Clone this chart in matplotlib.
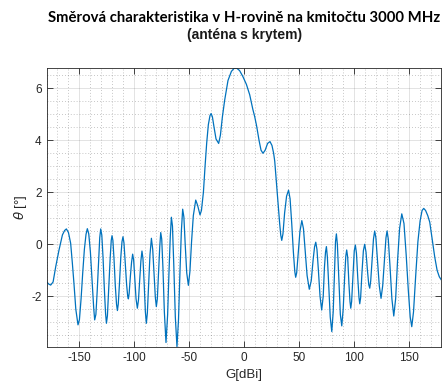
import numpy as np
import matplotlib
matplotlib.use("Agg")
import matplotlib.pyplot as plt
from matplotlib.ticker import MultipleLocator

plt.rcParams['font.family'] = ['Liberation Sans', 'DejaVu Sans']
plt.rcParams['axes.unicode_minus'] = False

# measured pattern: angle [deg] and value
angle = [
    -180.0, -178.0, -176.2, -174.0, -171.6, -168.6, -165.5, -163.5, -161.9, -160.0,
    -158.0, -156.5, -155.0, -153.3, -151.3, -150.0, -148.5, -147.0, -145.5, -144.0,
    -142.8, -141.5, -140.0, -138.5, -137.0, -136.1, -135.0, -133.8, -132.5, -131.5,
    -130.6, -129.6, -128.5, -127.3, -126.2, -125.4, -124.5, -123.3, -122.0, -121.0,
    -120.3, -119.5, -118.5, -117.3, -116.2, -115.4, -114.6, -113.5, -112.3, -111.2,
    -110.3, -109.4, -108.3, -107.0, -106.0, -105.4, -104.7, -103.6, -102.5, -101.5,
    -100.6, -99.6, -98.4, -97.2, -96.2, -95.1, -94.0, -93.0, -92.1, -91.0,
    -89.9, -89.0, -88.1, -87.0, -85.7, -84.4, -83.2, -82.0, -80.8, -79.9,
    -79.0, -77.9, -76.8, -75.9, -75.0, -73.9, -72.6, -71.1, -69.6, -68.4,
    -67.2, -66.2, -65.2, -64.0, -62.6, -61.1, -59.7, -58.4, -57.1, -55.9,
    -54.8, -53.6, -52.2, -50.7, -49.3, -47.8, -46.2, -44.0, -42.3, -40.1,
    -38.8, -37.0, -35.5, -34.0, -32.5, -31.0, -30.0, -28.8, -27.3, -25.5,
    -23.1, -21.5, -19.7, -17.6, -14.6, -11.5, -9.0, -6.5, -4.0, -1.0,
    2.2, 5.2, 8.0, 9.8, 11.5, 13.7, 15.5, 17.3, 19.3, 21.5,
    23.7, 25.5, 27.0, 28.0, 29.5, 31.0, 32.5, 33.5, 34.4, 35.5,
    37.0, 38.8, 40.6, 42.0, 43.5, 45.0, 46.3, 47.1, 48.0, 49.5,
    51.0, 52.7, 54.2, 55.8, 57.5, 59.5, 61.3, 63.0, 64.3, 65.4,
    66.5, 67.8, 69.3, 70.8, 72.2, 73.3, 74.3, 75.1, 76.0, 77.2,
    78.6, 80.0, 81.3, 82.5, 83.4, 84.2, 85.1, 86.3, 87.8, 89.1,
    90.4, 91.8, 92.8, 93.6, 94.5, 95.6, 96.6, 97.3, 98.1, 99.3,
    100.5, 101.5, 102.5, 103.7, 104.8, 105.5, 106.3, 107.5, 108.8, 110.0,
    111.2, 112.5, 113.7, 114.6, 115.5, 116.7, 118.0, 119.1, 120.2, 121.6,
    123.3, 124.9, 126.4, 128.0, 129.4, 130.4, 131.5, 133.0, 134.8, 136.5,
    138.2, 140.0, 141.8, 143.8, 145.8, 147.8, 149.8, 151.5, 152.9, 154.5,
    156.5, 158.5, 160.5, 162.3, 163.8, 165.5, 167.5, 169.3, 171.5, 173.8,
    176.0, 178.0, 180.0,
]
theta = [
    -1.44, -1.53, -1.57, -1.45, -0.86, -0.22, 0.36, 0.53, 0.59, 0.45,
    0.04, -0.70, -1.50, -2.50, -3.10, -2.90, -2.10, -1.10, -0.20, 0.38,
    0.60, 0.40, -0.30, -1.40, -2.45, -2.91, -2.70, -1.80, -0.60, 0.25,
    0.59, 0.35, -0.50, -1.70, -2.65, -3.04, -2.75, -1.70, -0.55, 0.15,
    0.33, 0.15, -0.55, -1.60, -2.30, -2.55, -2.30, -1.50, -0.50, 0.10,
    0.29, 0.05, -0.70, -1.55, -2.00, -2.10, -1.90, -1.25, -0.70, -0.38,
    -0.60, -1.30, -2.10, -2.46, -2.15, -1.40, -0.65, -0.26, -0.55, -1.50,
    -2.60, -3.04, -2.65, -1.60, -0.40, 0.23, -0.20, -1.10, -2.05, -2.40,
    -2.10, -1.10, -0.10, 0.45, 0.20, -0.90, -2.60, -3.78, -2.70, -1.10,
    0.30, 1.04, 0.70, -0.80, -2.80, -3.94, -2.90, -1.10, 0.50, 1.35,
    1.05, 0.00, -1.10, -1.58, -1.05, 0.10, 1.10, 1.70, 1.50, 1.13,
    1.30, 2.00, 3.00, 3.90, 4.60, 4.95, 5.03, 4.90, 4.50, 4.05,
    3.88, 4.20, 4.90, 5.55, 6.30, 6.65, 6.77, 6.77, 6.68, 6.45,
    6.15, 5.75, 5.20, 4.90, 4.55, 4.00, 3.62, 3.50, 3.62, 3.88,
    3.95, 3.80, 3.50, 3.20, 2.40, 1.60, 0.80, 0.35, 0.15, 0.40,
    1.20, 1.85, 2.08, 1.75, 0.80, -0.30, -1.05, -1.27, -1.10, -0.30,
    0.50, 0.91, 0.60, -0.30, -1.20, -1.73, -1.40, -0.60, -0.10, 0.08,
    -0.20, -1.00, -2.00, -2.53, -2.00, -0.90, -0.30, -0.09, -0.50, -1.60,
    -2.80, -3.36, -2.60, -1.00, 0.10, 0.40, 0.00, -1.20, -2.70, -3.14,
    -2.50, -1.20, -0.45, -0.22, -0.50, -1.50, -2.20, -2.46, -2.20, -1.20,
    -0.25, -0.03, -0.35, -1.30, -2.05, -2.29, -2.05, -1.10, -0.25, 0.00,
    -0.30, -1.00, -1.55, -1.69, -1.40, -0.60, 0.20, 0.51, 0.25, -0.60,
    -1.60, -2.08, -1.60, -0.60, 0.25, 0.51, 0.20, -0.80, -2.10, -2.76,
    -2.10, -0.60, 0.60, 1.17, 0.80, -0.40, -1.80, -2.80, -3.17, -2.60,
    -1.20, 0.10, 0.90, 1.30, 1.38, 1.30, 1.10, 0.85, 0.20, -0.48,
    -1.00, -1.25, -1.38,
]

x_ticks = [-150, -100, -50, 0, 50, 100, 150]
y_ticks = [-2, 0, 2, 4, 6]

fig = plt.figure(figsize=(4.43, 3.92), dpi=100)
ax = fig.add_axes([0.105, 0.1156, 0.8916, 0.7102])

ax.plot(angle, theta, color='#0072BD', linewidth=0.9)

ax.set_xlim(-180, 180)
ax.set_ylim(min(theta), max(theta))
ax.set_xticks(x_ticks)
ax.set_yticks(y_ticks)
ax.xaxis.set_minor_locator(MultipleLocator(10))
ax.yaxis.set_minor_locator(MultipleLocator(0.5))

ax.grid(True, which='major', color='#262626', alpha=0.15, linewidth=0.6)
ax.grid(True, which='minor', color='#262626', alpha=0.35, linewidth=0.6,
        linestyle=(0, (1, 2.5)))
ax.set_axisbelow(True)

for side in ax.spines.values():
    side.set_color('#262626')
    side.set_linewidth(0.6)
ax.tick_params(which='major', direction='in', length=4, width=0.6,
               top=True, right=True, colors='#262626', labelsize=8.5,
               labelcolor='#262626')
ax.tick_params(which='minor', length=0, top=True, right=True)

ax.set_xlabel('G[dBi]', fontsize=9.5, color='#262626', labelpad=4)
ax.set_ylabel(r'$\theta$ [°]', fontsize=9.5, color='#262626', labelpad=2)

fig.text(0.55, 0.953, 'Směrová charakteristika v H-rovině na kmitočtu 3000 MHz',
         ha='center', va='center', fontsize=10.7, fontweight='bold',
         family=['Lato', 'DejaVu Sans'], color='black')
fig.text(0.552, 0.91, '(anténa s krytem)', ha='center', va='center',
         fontsize=10, fontweight='bold', color='#1a1a1a')

fig.savefig('out.png', dpi=100)
